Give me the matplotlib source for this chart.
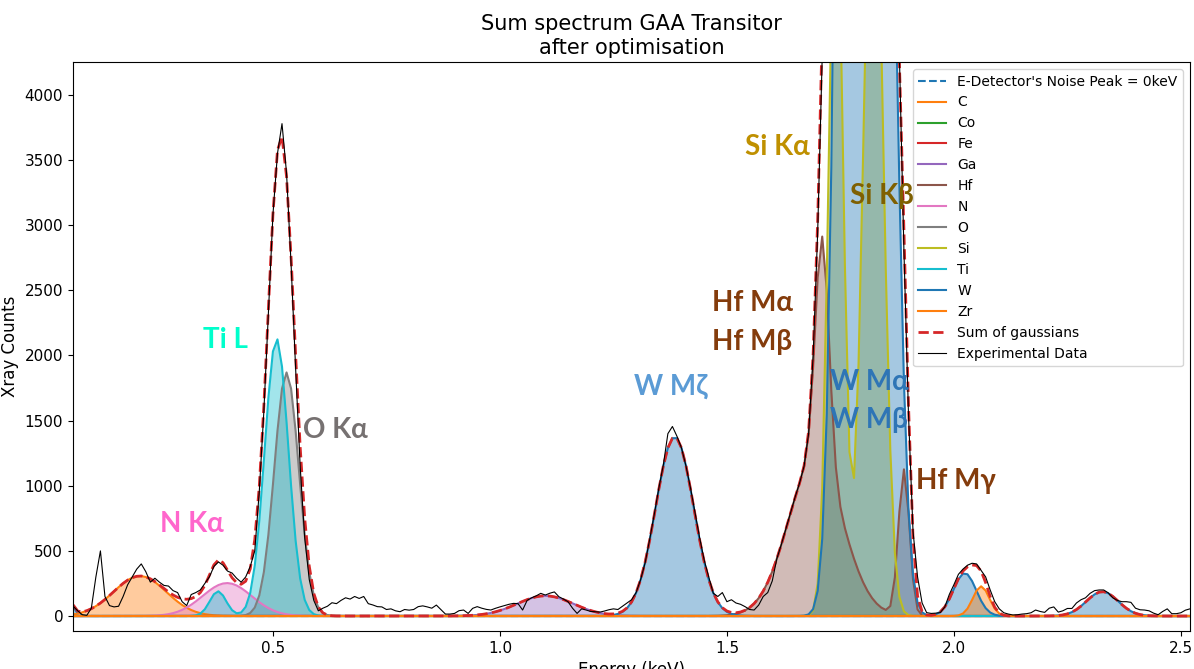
import numpy as np
import matplotlib
matplotlib.use("Agg")
import matplotlib.pyplot as plt

# energy channels (keV) of the measured spectrum, 10 eV per channel
energy = np.round(np.arange(0.06, 2.525, 0.01), 2)

# measured counts, one row per 0.1 keV
counts = [
    75, 40, 10, 5, 60, 300, 500, 150, 80, 70,
    75, 150, 240, 300, 360, 400, 340, 260, 290, 260,
    235, 230, 195, 180, 110, 80, 165, 180, 200, 250,
    300, 380, 415, 390, 345, 330, 290, 260, 300, 380,
    500, 960, 1570, 2330, 3080, 3550, 3780, 3400, 2700, 1900,
    1150, 600, 280, 120, 40, 60, 75, 102, 95, 120,
    140, 130, 150, 135, 150, 95, 85, 72, 70, 50,
    55, 40, 33, 50, 45, 50, 72, 78, 70, 60,
    84, 50, 15, 15, 20, 41, 46, 20, 59, 72,
    60, 51, 46, 59, 70, 80, 90, 97, 95, 46,
    120, 140, 155, 174, 161, 175, 185, 148, 130, 110,
    60, 20, 55, 46, 35, 33, 30, 38, 48, 55,
    50, 75, 100, 125, 180, 280, 410, 590, 780, 980,
    1160, 1400, 1455, 1380, 1290, 1150, 980, 790, 600, 430,
    300, 175, 150, 180, 110, 125, 100, 90, 72, 50,
    46, 84, 150, 180, 270, 440, 550, 670, 790, 910,
    1020, 1150, 1400, 2000, 2950, 4300, 7000, 10000, 14000, 16000,
    18000, 19000, 18500, 17000, 15000, 13000, 12000, 11000, 10000, 9000,
    8000, 6300, 4300, 2800, 1550, 650, 300, 100, 26, 20,
    22, 26, 70, 166, 240, 320, 360, 390, 405, 400,
    350, 300, 200, 110, 55, 25, 15, 8, 10, 15,
    18, 25, 46, 35, 28, 60, 70, 30, 40, 58,
    58, 100, 125, 140, 174, 195, 200, 200, 178, 140,
    120, 110, 110, 105, 60, 48, 46, 40, 22, 10,
    35, 55, 18, 18, 25, 45, 55,
]

elements = ["E-Detector's Noise Peak = 0keV", "C", "Co", "Fe", "Ga", "Hf",
            "N", "O", "Si", "Ti", "W", "Zr"]

# fitted gaussian lines: element, centre (keV), height (counts), sigma (keV)
peak_element = ["E-Detector's Noise Peak = 0keV", "C", "Ga",
                "Hf", "Hf", "Hf", "N", "O", "Si", "Si", "Ti", "Ti",
                "W", "W", "W", "W", "W", "Zr"]
peak_centre = [0.0, 0.207, 1.100,
               1.695, 1.710, 1.890, 0.399, 0.530, 1.740, 1.8225, 0.379, 0.508,
               1.385, 1.775, 1.850, 2.024, 2.327, 2.060]
peak_height = [3000, 307, 155,
               1200, 1750, 1120, 253, 1870, 5700, 6270, 190, 2130,
               1375, 17400, 7200, 330, 187, 228]
peak_sigma = [0.022, 0.058, 0.062,
              0.060, 0.015, 0.012, 0.054, 0.027, 0.016, 0.021, 0.018, 0.026,
              0.042, 0.025, 0.024, 0.025, 0.035, 0.018]

# labels of the main lines: text, x (keV), y (counts), colour
label_text = ["Ti L", "N Kα", "O Kα", "W Mζ", "Si Kα", "Si Kβ",
              "Hf Mα", "Hf Mβ", "W Mα", "W Mβ", "Hf Mγ"]
label_x = [0.346, 0.251, 0.566, 1.295, 1.540, 1.771,
           1.467, 1.467, 1.727, 1.727, 1.916]
label_y = [2118, 706, 1427, 1757, 3599, 3223,
           2402, 2103, 1796, 1504, 1036]
label_colour = ["#00ffcc", "#ff66cc", "#767171", "#5b9bd5", "#bf9000", "#7f6000",
                "#843c0c", "#843c0c", "#2e75b6", "#2e75b6", "#843c0c"]

counts = np.array(counts, dtype=float)
assert len(counts) == len(energy)


def gauss(x, c, h, s):
    return h * np.exp(-(x - c) ** 2 / (2 * s ** 2))


fig = plt.figure(figsize=(11.94, 6.69), dpi=100)
ax = fig.add_axes([0.0611, 0.0568, 0.9355, 0.8505])

total = np.zeros_like(energy)
for i, el in enumerate(elements):
    y = np.zeros_like(energy)
    for c, h, s, pe in zip(peak_centre, peak_height, peak_sigma, peak_element):
        if pe == el:
            y += gauss(energy, c, h, s)
    total += y
    colour = "C%d" % (i % 10)
    ls = "--" if i == 0 else "-"
    ax.plot(energy, y, ls, color=colour, lw=1.5, label=el)
    ax.fill_between(energy, 0, y, color=colour, alpha=0.4, lw=0)

ax.plot(energy, total, "--", color="tab:red", lw=2, label="Sum of gaussians")
ax.plot(energy, counts, "-", color="black", lw=0.8, label="Experimental Data")

for t, x, y, col in zip(label_text, label_x, label_y, label_colour):
    ax.text(x, y, t, color=col, fontsize=20, fontweight="bold",
            family=["Lato", "DejaVu Sans"], ha="left", va="center")

ax.set_xlim(0.0595, 2.52)
ax.set_ylim(-115, 4253)
ax.set_title("Sum spectrum GAA Transitor\nafter optimisation", fontsize=15)
ax.set_xlabel("Energy (keV)", fontsize=12)
ax.set_ylabel("Xray Counts", fontsize=12)
ax.tick_params(labelsize=11)
ax.legend(loc="upper right", fontsize=10)

fig.savefig("out.png", dpi=100)
